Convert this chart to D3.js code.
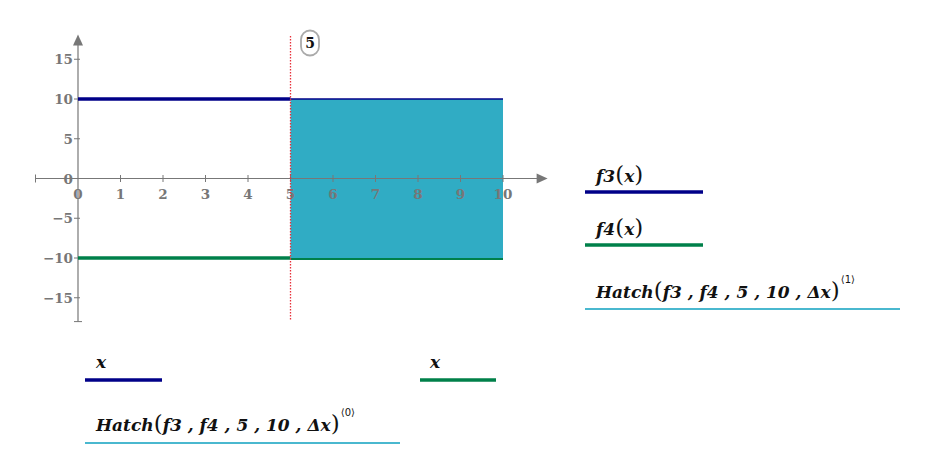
<!DOCTYPE html>
<html><head><meta charset="utf-8">
<script src="https://cdn.jsdelivr.net/npm/d3@7"></script>
<style>body{margin:0;background:#fff}svg{display:block}</style>
</head><body>
<svg id="c" width="940" height="465"></svg>
<script>
const xTicks = [0,1,2,3,4,5,6,7,8,9,10];
const yTicks = [-15,-10,-5,0,5,10,15];
const xs = [0,5,10];
const f3 = [10,10,10];
const f4 = [-10,-10,-10];
const hatchX = [5,5,10,10];
const hatchY = [-10,10,10,-10];
const marker = 5;

const svg = d3.select('#c');
const x = d3.scaleLinear().domain([0,10]).range([78,503]);
const y = d3.scaleLinear().domain([-10,10]).range([258,99]);
const grey = '#777';
const tickFont = 'bold 13.5px "DejaVu Serif", serif';

// hatch fill
svg.append('path')
  .attr('d', d3.line().x(d=>x(d[0])).y(d=>y(d[1]))(hatchX.map((v,i)=>[v,hatchY[i]])) + 'Z')
  .attr('fill','#30acc4');

// axes
const xMin=-1, xMax=11.05, yMin=-18, yMax=18.1;
svg.append('line').attr('x1',x(xMin)).attr('x2',x(xMax)-8).attr('y1',y(0)).attr('y2',y(0)).attr('stroke',grey).attr('stroke-width',1.2);
svg.append('line').attr('x1',x(xMin)).attr('x2',x(xMin)).attr('y1',y(0)-4).attr('y2',y(0)+4).attr('stroke',grey);
svg.append('path').attr('d',`M${x(xMax)},${y(0)} l-11,-5 l0,10 Z`).attr('fill',grey);
svg.append('line').attr('x1',x(0)).attr('x2',x(0)).attr('y1',y(yMax)+8).attr('y2',y(yMin)).attr('stroke',grey).attr('stroke-width',1.2);
svg.append('line').attr('x1',x(0)-4).attr('x2',x(0)+4).attr('y1',y(yMin)).attr('y2',y(yMin)).attr('stroke',grey);
svg.append('path').attr('d',`M${x(0)},${y(yMax)} l-5,11 l10,0 Z`).attr('fill',grey);

xTicks.forEach(t=>{
  if(t!==0) svg.append('line').attr('x1',x(t)).attr('x2',x(t)).attr('y1',y(0)-3.5).attr('y2',y(0)+3.5).attr('stroke',grey);
  svg.append('text').attr('x',x(t)).attr('y',y(0)+20).attr('text-anchor','middle')
    .style('font',tickFont).attr('fill',grey).text(t);
});
yTicks.forEach(t=>{
  svg.append('line').attr('x1',x(0)-4).attr('x2',x(0)+2).attr('y1',y(t)).attr('y2',y(t)).attr('stroke',grey);
  svg.append('text').attr('x',x(0)-5).attr('y',y(t)+5).attr('text-anchor','end')
    .style('font',tickFont).attr('fill',grey).text(t<0?'\u2212'+(-t):t);
});

// traces
const seg = (i, arr) => [[xs[i],arr[i]],[xs[i+1],arr[i+1]]];
const ln = d3.line().x(d=>x(d[0])).y(d=>y(d[1]));
svg.append('path').attr('d',ln(seg(1,f3))).attr('stroke','#000088').attr('stroke-width',1.5).attr('fill','none');
svg.append('path').attr('d',ln(seg(1,f4).map(d=>[d[0],d[1]-0.12]))).attr('stroke','#00804a').attr('stroke-width',2).attr('fill','none');
svg.append('path').attr('d',ln(seg(0,f3))).attr('stroke','#000088').attr('stroke-width',3.5).attr('fill','none');
svg.append('path').attr('d',ln(seg(0,f4))).attr('stroke','#00804a').attr('stroke-width',3.5).attr('fill','none');

// marker
svg.append('line').attr('x1',x(marker)).attr('x2',x(marker)).attr('y1',36).attr('y2',320)
  .attr('stroke','#e8303a').attr('stroke-width',1.3).attr('stroke-dasharray','1.5,1.5');
svg.append('rect').attr('x',x(marker)+10.5).attr('y',30.5).attr('width',18).attr('height',25).attr('rx',9)
  .attr('fill','#fff').attr('stroke','#aaa').attr('stroke-width',1.8);
svg.append('text').attr('x',x(marker)+19.5).attr('y',48).attr('text-anchor','middle')
  .style('font','bold 14px "DejaVu Serif", serif').attr('fill','#111').text(marker);

// legends
const lf = 'italic bold 17px "DejaVu Serif", serif';
function legend(tx, ty, x1, x2, ly, color, w, parts){
  const t = svg.append('text').attr('x',tx).attr('y',ty).style('font',lf).attr('fill','#111');
  parts.forEach(p=>{
    const s = t.append('tspan').text(p.t);
    if(p.s) s.style('font','normal 10px "DejaVu Sans", sans-serif').attr('dy',-15).attr('dx',1);
    if(p.n) s.style('font','normal 23px "DejaVu Serif", serif');
  });
  svg.append('line').attr('x1',x1).attr('x2',x2).attr('y1',ly).attr('y2',ly).attr('stroke',color).attr('stroke-width',w);
}
legend(596,182,585,703,192,'#000088',3.5,[{t:'f3'},{t:'(',n:1},{t:'x'},{t:')',n:1}]);
legend(596,235,585,703,245,'#00804a',3.5,[{t:'f4'},{t:'(',n:1},{t:'x'},{t:')',n:1}]);
legend(596,298,585,900,309,'#4ab8cf',2,[{t:'Hatch'},{t:'(',n:1},{t:'f3 , f4 , 5 , 10 , Δx'},{t:')',n:1},{t:'⟨1⟩',s:1}]);
legend(96,368,85,162,380,'#000088',3.5,[{t:'x'}]);
legend(430,368,420,496,380,'#00804a',3.5,[{t:'x'}]);
legend(96,431,85,400,443,'#4ab8cf',2,[{t:'Hatch'},{t:'(',n:1},{t:'f3 , f4 , 5 , 10 , Δx'},{t:')',n:1},{t:'⟨0⟩',s:1}]);
</script>
</body></html>
